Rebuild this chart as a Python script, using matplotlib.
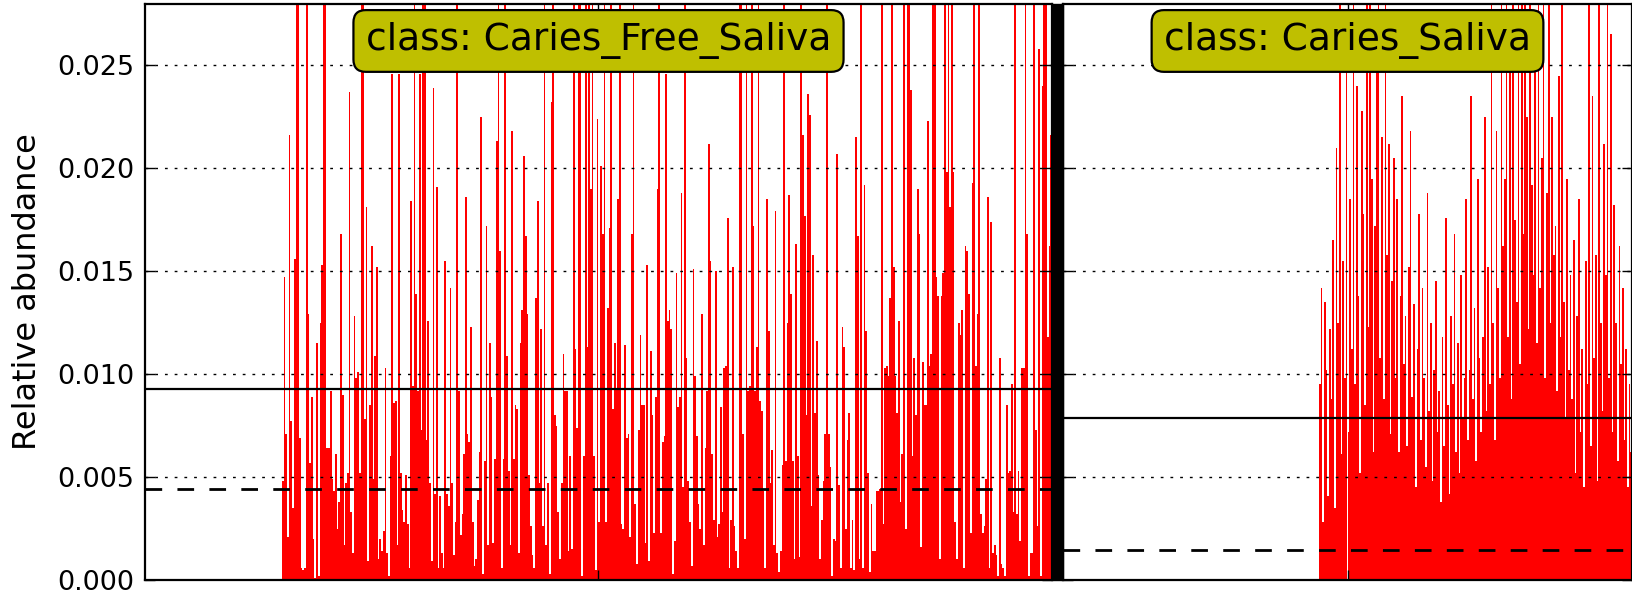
import matplotlib
matplotlib.use('Agg')
import matplotlib.pyplot as plt
from matplotlib.patches import Rectangle

plt.rcParams['font.family'] = ['DejaVu Sans']

T = 0.035  # bars that run off the top of the plot

class_names = ['Caries_Free_Saliva', 'Caries_Saliva']

caries_free_saliva = [0.0] * 80 + [
    0.0048, 0.0147, 0.0071, 0.0021, 0.0216, 0.0077, 0.0035, 0.0156, T, T, 0.0069, 0.0006, 0.0005, 0.0006, T, 0.0129,
    0.0057, 0.0089, 0.0020, 0.0001, 0.0115, 0.0002, 0.0125, 0.0153, T, T, 0.0064, 0.0064, 0.0092, 0.0049, 0.0043, 0.0061,
    0.0025, 0.0038, 0.0168, 0.0090, 0.0017, 0.0047, 0.0052, 0.0237, 0.0033, 0.0013, 0.0128, 0.0098, 0.0101, 0.0052, T, T,
    0.0078, 0.0181, 0.0009, 0.0085, 0.0162, 0.0049, 0.0109, 0.0152, 0.0010, 0.0020, 0.0014, 0.0024, 0.0103, 0.0013, 0.0002,
    0.0060, 0.0246, 0.0086, 0.0087, 0.0017, 0.0246, 0.0052, 0.0034, 0.0028, 0.0051, 0.0027, 0.0006, 0.0184, 0.0094, T,
    0.0139, 0.0092, 0.0246, 0.0073, T, T, 0.0068, 0.0126, 0.0047, 0.0009, 0.0239, 0.0042, 0.0191, 0.0006, 0.0041, 0.0013,
    0.0006, 0.0155, 0.0042, 0.0036, 0.0142, 0.0047, 0.0012, 0.0028, T, 0.0092, 0.0022, 0.0032, 0.0061, 0.0186, 0.0071,
    0.0067, 0.0123, 0.0028, 0.0007, 0.0010, 0.0039, 0.0062, 0.0225, 0.0003, 0.0058, 0.0172, 0.0017, 0.0115, 0.0089, 0.0018,
    0.0059, 0.0213, T, 0.0160, 0.0006, 0.0059, T, 0.0109, 0.0053, 0.0017, 0.0218, 0.0059, 0.0085, 0.0083, 0.0013, 0.0115,
    0.0131, 0.0206, 0.0167, 0.0129,
    0.0051, 0.0026, 0.0012, 0.0006, 0.0137, 0.0184, 0.0047, 0.0122, 0.0026, T, 0.0017, 0.0047, 0.0003, 0.0232, T, 0.0080,
    0.0075, 0.0033, 0.0010, 0.0047, 0.0110, 0.0092, 0.0092, 0.0014, 0.0060, 0.0015, T, 0.0112, 0.0074, T, T, 0.0002,
    0.0060, T, 0.0113, T, 0.0190, T, 0.0060, 0.0005, 0.0224, 0.0028, 0.0201, 0.0168, T, 0.0028, 0.0132, 0.0171, T,
    0.0083, 0.0115, 0.0093, 0.0185, T, 0.0027, 0.0025, 0.0114, 0.0069, 0.0071, 0.0021, 0.0168, T, 0.0037, 0.0008, 0.0073,
    0.0119, 0.0085, 0.0085, 0.0018, 0.0153, 0.0009, 0.0111, 0.0080, 0.0023, 0.0089, 0.0190, T, 0.0023, 0.0067, 0.0070,
    0.0246, 0.0126, 0.0131, 0.0122, 0.0003, 0.0019, 0.0149, 0.0084, 0.0089, 0.0188, 0.0045, T, 0.0108, 0.0048, 0.0028,
    0.0007, 0.0151, 0.0099, 0.0070, 0.0037, 0.0025, 0.0129, 0.0017, 0.0064, 0.0092, 0.0212, 0.0155, 0.0061, 0.0029, 0.0150,
    0.0021, 0.0027, 0.0084, 0.0033, 0.0103, 0.0104, 0.0176, 0.0006, 0.0029, 0.0152, 0.0026, 0.0014, 0.0006, T, T, 0.0071,
    0.0020, T, 0.0092, 0.0094, T, 0.0172, 0.0092, 0.0113, T, 0.0087, 0.0082, 0.0043, 0.0006, 0.0185, 0.0121, 0.0047,
    0.0063, 0.0017, 0.0179, 0.0013, 0.0004, 0.0014, 0.0056,
    T, 0.0058, 0.0125, 0.0187, 0.0139, 0.0058, 0.0010, 0.0163, 0.0060, 0.0011, T, 0.0216, 0.0177, 0.0080, 0.0236, 0.0226,
    0.0036, 0.0158, 0.0081, 0.0116, 0.0051, 0.0010, 0.0029, 0.0048, 0.0071, T, 0.0071, 0.0055, 0.0002, 0.0020, 0.0019,
    0.0207, 0.0046, 0.0006, 0.0123, 0.0113, 0.0025, 0.0068, 0.0081, 0.0006, 0.0029, 0.0005, 0.0215, 0.0167, 0.0010, T,
    0.0006, 0.0192, 0.0121, 0.0052, 0.0004, 0.0037, 0.0014, 0.0014, 0.0043, 0.0043, 0.0044, T, 0.0027, 0.0103, 0.0104,
    0.0099, 0.0137, T, 0.0152, 0.0099, 0.0081, 0.0126, 0.0038, 0.0061, T, 0.0025, T, T, 0.0238, 0.0060, 0.0108, 0.0080,
    0.0190, 0.0168, 0.0016, 0.0106, 0.0085, 0.0085, 0.0223, 0.0104, 0.0110, T, T, 0.0147, 0.0138, 0.0010, 0.0138, 0.0149,
    T, 0.0198, T, 0.0181, T, 0.0198, 0.0028, 0.0010, 0.0125, 0.0119, 0.0131, 0.0006, 0.0162, 0.0160, 0.0139, 0.0023,
    0.0193, T, 0.0104, 0.0129, T, 0.0032, 0.0023, 0.0026, 0.0049, 0.0186, 0.0006, 0.0174, 0.0013, 0.0017, 0.0012, 0.0002,
    0.0108, 0.0008, 0.0006, 0.0002, 0.0085, 0.0052, 0.0053, 0.0095, 0.0033, T, 0.0032, 0.0053, 0.0019, 0.0103, 0.0103, T,
    0.0168, 0.0002, 0.0013, 0.0013, T, 0.0073, 0.0026, 0.0258, 0.0002, 0.0240, T, T, 0.0118, 0.0162, 0.0216,
]

caries_saliva = [0.0] * 152 + [
    0.0095, 0.0142, 0.0028, 0.0135, 0.0102, 0.0041, 0.0122, 0.0088, 0.0165, 0.0035,
    0.0210, 0.0125, T, 0.0061, 0.0155, 0.0098, 0.0260, 0.0072, 0.0185, 0.0112,
    T, 0.0095, 0.0240, 0.0138, 0.0052, 0.0228, 0.0178, 0.0085, T, 0.0123,
    T, 0.0195, 0.0062, 0.0172, 0.0250, T, 0.0108, 0.0215, 0.0088, T,
    0.0158, 0.0212, 0.0071, 0.0145, 0.0205, 0.0098, 0.0185, 0.0062, 0.0138, 0.0235,
    0.0105, 0.0128, 0.0065, 0.0152, 0.0218, 0.0089, 0.0134, 0.0045, 0.0112, 0.0178,
    0.0068, 0.0142, 0.0098, 0.0055, 0.0188, 0.0082, 0.0125, 0.0048, 0.0102, 0.0145,
    0.0072, 0.0092, 0.0038, 0.0118, 0.0065, 0.0176, 0.0085, 0.0042, 0.0128, 0.0095,
    0.0168, 0.0062, 0.0115, 0.0052, 0.0148, 0.0078, 0.0098, 0.0185, 0.0068, 0.0102,
    0.0235, 0.0088, 0.0132, 0.0058, 0.0195, 0.0108, 0.0072, 0.0118, 0.0225, 0.0082,
    0.0152, 0.0095, T, 0.0125, 0.0068, 0.0218, 0.0142, 0.0098, T, 0.0162,
    0.0195, T, 0.0118, 0.0252, 0.0088, T, 0.0175, 0.0135, T, 0.0105,
    T, 0.0168, T, 0.0225, 0.0122, T, 0.0192, 0.0148, 0.0262, 0.0115,
    T, 0.0142, 0.0205, T, 0.0098, 0.0188, T, 0.0125, 0.0225, 0.0158,
    0.0172, 0.0092, 0.0245, 0.0118, T, 0.0135, 0.0078, 0.0195, 0.0102, 0.0148,
    0.0088, 0.0165, 0.0052, 0.0128, 0.0185, 0.0072, 0.0112, 0.0045, 0.0155, 0.0095,
    T, 0.0065, 0.0235, 0.0108, 0.0158, 0.0048, T, 0.0125, 0.0082, 0.0212,
    0.0148, T, 0.0098, 0.0265, 0.0072, 0.0182, 0.0125, 0.0058, 0.0162, 0.0105,
    0.0142, 0.0068, 0.0112, 0.0045, 0.0095, 0.0062,
]

class_values = [caries_free_saliva, caries_saliva]
class_means = [0.0093, 0.00786]
class_medians = [0.0044, 0.00145]

y_ticks = [0.000, 0.005, 0.010, 0.015, 0.020, 0.025]
y_tick_labels = ['0.000', '0.005', '0.010', '0.015', '0.020', '0.025']
y_max = 0.028
y_label = 'Relative abundance'

W, H = 1633, 593
fig = plt.figure(figsize=(W / 100, H / 100), dpi=100)
fig.patch.set_facecolor('white')


def px_axes(x0, x1, ytop, ybot):
    return fig.add_axes([x0 / W, (H - ybot) / H, (x1 - x0) / W, (ybot - ytop) / H])


axes = [px_axes(145, 1052, 3.5, 580), px_axes(1063, 1632, 3.5, 580)]

for i, (ax, name, vals, mean, med) in enumerate(zip(axes, class_names, class_values,
                                                    class_means, class_medians)):
    n = len(vals)
    ax.bar(range(n), vals, width=1.0, color='#ff0000', linewidth=0, align='center')
    ax.set_xlim(-0.5, n - 0.5)
    ax.set_ylim(0, y_max)
    ax.set_axisbelow(False)
    ax.yaxis.grid(True, linestyle=(0, (2, 5)), color='black', linewidth=1)
    ax.xaxis.grid(False)
    ax.axhline(mean, color='black', linewidth=1.6, zorder=5)
    ax.axhline(med, color='black', linewidth=2, linestyle=(0, (6, 5.5)), zorder=5)
    ax.set_xticks([(n - 1) / 2])
    ax.set_xticklabels([])
    ax.set_yticks(y_ticks)
    if i == 0:
        ax.set_yticklabels(y_tick_labels)
    else:
        ax.set_yticklabels([])
    ax.tick_params(direction='in', length=7, width=1, top=True, right=True,
                   labelsize=19.5, pad=8)
    for s in ax.spines.values():
        s.set_linewidth(1.6)
    ax.text(0.5, 0.935, 'class: ' + name, transform=ax.transAxes,
            ha='center', va='center', fontsize=27, zorder=10,
            bbox=dict(boxstyle='round,pad=0.33', fc=(0.75, 0.75, 0.0), ec='black', lw=1.6))

fig.patches.append(Rectangle((1052 / W, (H - 580) / H), 11 / W, 576.5 / H,
                             transform=fig.transFigure, color='black', zorder=20))

fig.text(28 / W, (H - 292) / H, y_label, rotation=90, ha='center', va='center', fontsize=23)

fig.savefig('out.png', dpi=100)
